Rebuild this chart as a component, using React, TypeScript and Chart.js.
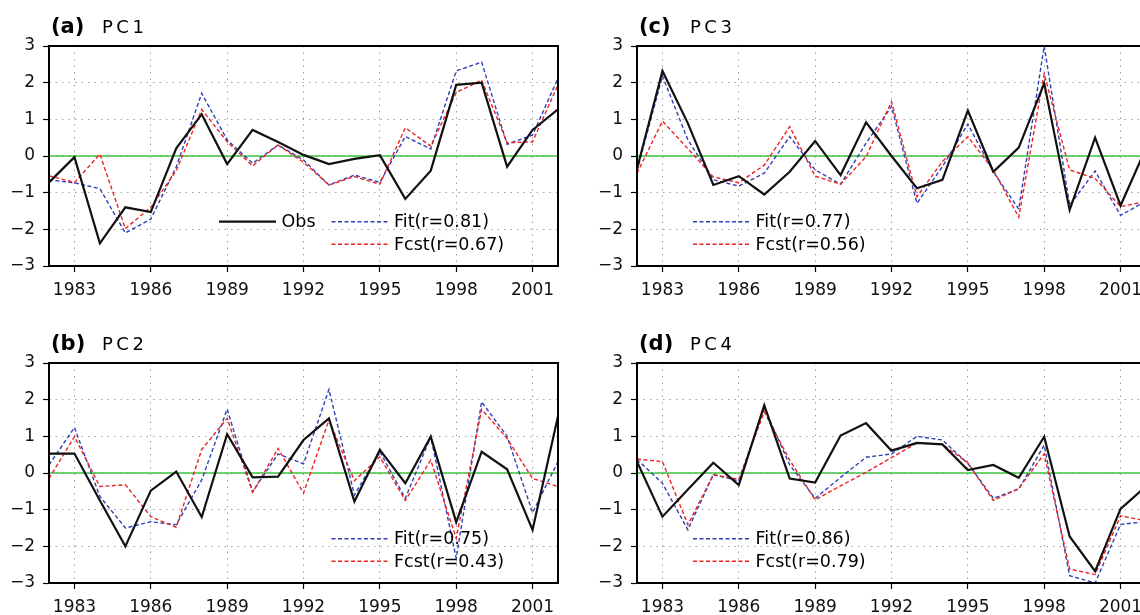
import React, { useEffect, useRef } from 'react';
import { Chart, registerables } from 'chart.js';

Chart.register(...registerables);

const years = [1982, 1983, 1984, 1985, 1986, 1987, 1988, 1989, 1990, 1991, 1992, 1993, 1994, 1995, 1996, 1997, 1998, 1999, 2000, 2001, 2002];
const tickYears = [1983, 1986, 1989, 1992, 1995, 1998, 2001];

// PC1
const pc1Obs = [-0.72, -0.03, -2.38, -1.4, -1.53, 0.21, 1.14, -0.22, 0.71, 0.38, 0.03, -0.22, -0.08, 0.02, -1.17, -0.4, 1.94, 2.0, -0.29, 0.71, 1.27];
const pc1Fit = [-0.65, -0.73, -0.89, -2.1, -1.72, -0.3, 1.71, 0.44, -0.2, 0.3, -0.11, -0.79, -0.52, -0.72, 0.53, 0.19, 2.32, 2.56, 0.32, 0.57, 2.12];
const pc1Fcst = [-0.54, -0.72, 0.05, -1.98, -1.4, -0.4, 1.27, 0.39, -0.27, 0.3, -0.17, -0.79, -0.56, -0.77, 0.77, 0.27, 1.73, 2.07, 0.36, 0.39, 1.94];

// PC2
const pc2Obs = [0.53, 0.53, -0.75, -2.0, -0.48, 0.04, -1.2, 1.06, -0.12, -0.1, 0.9, 1.49, -0.78, 0.63, -0.28, 0.99, -1.34, 0.58, 0.1, -1.55, 1.55];
const pc2Fit = [0.22, 1.24, -0.64, -1.5, -1.33, -1.41, -0.19, 1.74, -0.51, 0.52, 0.25, 2.28, -0.6, 0.58, -0.69, 0.99, -2.32, 1.94, 1.0, -1.08, 0.31];
const pc2Fcst = [-0.15, 0.99, -0.37, -0.32, -1.19, -1.48, 0.64, 1.49, -0.53, 0.67, -0.55, 1.44, -0.21, 0.44, -0.75, 0.35, -1.78, 1.74, 0.94, -0.15, -0.37];

// PC3
const pc3Obs = [-0.35, 2.32, 0.89, -0.79, -0.55, -1.05, -0.43, 0.41, -0.52, 0.92, 0.0, -0.88, -0.65, 1.24, -0.43, 0.23, 1.98, -1.47, 0.5, -1.35, 0.21];
const pc3Fit = [-0.4, 2.18, 0.44, -0.65, -0.82, -0.47, 0.53, -0.38, -0.77, 0.35, 1.35, -1.29, -0.29, 0.87, -0.43, -1.45, 3.0, -1.34, -0.41, -1.62, -1.23];
const pc3Fcst = [-0.47, 0.95, 0.2, -0.57, -0.73, -0.25, 0.8, -0.55, -0.77, -0.02, 1.48, -1.11, -0.15, 0.53, -0.38, -1.67, 2.24, -0.38, -0.61, -1.38, -1.24];

// PC4
const pc4Obs = [0.31, -1.19, -0.45, 0.28, -0.33, 1.85, -0.15, -0.26, 1.02, 1.36, 0.61, 0.82, 0.78, 0.08, 0.22, -0.13, 0.99, -1.73, -2.68, -0.98, -0.36];
const pc4Fit = [0.37, -0.28, -1.55, -0.04, -0.22, 1.78, 0.22, -0.69, -0.12, 0.43, 0.52, 1.0, 0.9, 0.26, -0.69, -0.44, 0.76, -2.8, -3.0, -1.4, -1.33];
const pc4Fcst = [0.38, 0.31, -1.41, -0.05, -0.17, 1.67, 0.35, -0.73, -0.35, 0.02, 0.42, 0.82, 0.78, 0.28, -0.75, -0.42, 0.52, -2.62, -2.77, -1.17, -1.3];

const panelLetters = ['(a)', '(b)', '(c)', '(d)'];
const panelNames = ['PC1', 'PC2', 'PC3', 'PC4'];
const fitLabels = ['Fit(r=0.81)', 'Fit(r=0.75)', 'Fit(r=0.77)', 'Fit(r=0.86)'];
const fcstLabels = ['Fcst(r=0.67)', 'Fcst(r=0.43)', 'Fcst(r=0.56)', 'Fcst(r=0.79)'];
const obsLabel = 'Obs';

const OBS_COLOR = '#111111';
const FIT_COLOR = '#2e40b8';
const FCST_COLOR = '#ee2222';
const ZERO_COLOR = '#3ec43e';
const FIT_DASH = [4, 2.5];
const FCST_DASH = [4, 2.5];
const FONT = '"DejaVu Sans"';

const CW = 570;
const CH = 300;

type PanelSpec = {
  idx: number;
  obs: number[];
  fit: number[];
  fcst: number[];
  left: number;
  top: number;
  showObs: boolean;
  legendLineX: number;
};

const panels: PanelSpec[] = [
  { idx: 0, obs: pc1Obs, fit: pc1Fit, fcst: pc1Fcst, left: 0, top: 0, showObs: true, legendLineX: 282.5 },
  { idx: 1, obs: pc2Obs, fit: pc2Fit, fcst: pc2Fcst, left: 0, top: 317, showObs: false, legendLineX: 282.5 },
  { idx: 2, obs: pc3Obs, fit: pc3Fit, fcst: pc3Fcst, left: 588, top: 0, showObs: false, legendLineX: 56 },
  { idx: 3, obs: pc4Obs, fit: pc4Fit, fcst: pc4Fcst, left: 588, top: 317, showObs: false, legendLineX: 56 },
];

function toPoints(vals: number[]) {
  return years.map((x, i) => ({ x, y: vals[i] }));
}

function makeDecorPlugin(p: PanelSpec) {
  return {
    id: 'decor' + p.idx,
    afterDraw(chart: any) {
      const { ctx, chartArea } = chart;
      const L = chartArea.left;
      const T = chartArea.top;
      ctx.save();
      // frame
      ctx.strokeStyle = '#000';
      ctx.lineWidth = 2;
      ctx.setLineDash([]);
      ctx.strokeRect(chartArea.left, chartArea.top, chartArea.right - chartArea.left, chartArea.bottom - chartArea.top);

      // title
      ctx.fillStyle = '#000';
      ctx.textBaseline = 'alphabetic';
      ctx.textAlign = 'left';
      ctx.font = 'bold 21px ' + FONT;
      ctx.fillText(panelLetters[p.idx], L + 2, T - 13.5);
      ctx.font = '18px ' + FONT;
      (ctx as any).letterSpacing = '3.5px';
      ctx.fillText(panelNames[p.idx], L + 53, T - 13.5);
      (ctx as any).letterSpacing = '0px';

      // legend
      const row1 = T + 175.7;
      const row2 = T + 198.2;
      const lineLen = 57;
      const gap = 5.5;
      ctx.font = '17.5px ' + FONT;
      ctx.textBaseline = 'middle';
      const drawEntry = (x: number, y: number, color: string, dash: number[], width: number, label: string) => {
        ctx.beginPath();
        ctx.strokeStyle = color;
        ctx.lineWidth = width;
        ctx.setLineDash(dash);
        ctx.moveTo(x, y);
        ctx.lineTo(x + lineLen, y);
        ctx.stroke();
        ctx.setLineDash([]);
        ctx.fillStyle = '#000';
        ctx.fillText(label, x + lineLen + gap, y + 1);
      };
      if (p.showObs) {
        drawEntry(L + 170, row1, OBS_COLOR, [], 2.2, obsLabel);
      }
      drawEntry(L + p.legendLineX, row1, FIT_COLOR, FIT_DASH, 1.4, fitLabels[p.idx]);
      drawEntry(L + p.legendLineX, row2, FCST_COLOR, FCST_DASH, 1.4, fcstLabels[p.idx]);
      ctx.restore();
    },
  };
}

function makeConfig(p: PanelSpec): any {
  const tickFont = { family: FONT, size: 17 };
  return {
    type: 'line',
    data: {
      datasets: [
        { label: 'Obs', data: toPoints(p.obs), borderColor: OBS_COLOR, borderWidth: 2.2, pointRadius: 0, tension: 0, fill: false },
        { label: 'Fcst', data: toPoints(p.fcst), borderColor: FCST_COLOR, borderWidth: 1.4, borderDash: FCST_DASH, pointRadius: 0, tension: 0, fill: false },
        { label: 'Fit', data: toPoints(p.fit), borderColor: FIT_COLOR, borderWidth: 1.4, borderDash: FIT_DASH, pointRadius: 0, tension: 0, fill: false },
        { label: 'zero', data: [{ x: years[0], y: 0 }, { x: years[years.length - 1], y: 0 }], borderColor: ZERO_COLOR, borderWidth: 1.6, pointRadius: 0, fill: false },
      ],
    },
    options: {
      animation: false,
      responsive: false,
      maintainAspectRatio: false,
      devicePixelRatio: 1,
      events: [],
      layout: { autoPadding: false, padding: { left: 0, top: 46, right: 12, bottom: 4 } },
      plugins: { legend: { display: false }, tooltip: { enabled: false }, title: { display: false } },
      scales: {
        x: {
          type: 'linear',
          min: 1982,
          max: 2002,
          afterBuildTicks: (s: any) => {
            s.ticks = tickYears.map((v) => ({ value: v }));
          },
          afterFit: (s: any) => {
            s.height = 30;
          },
          grid: { color: '#a0a0a0', lineWidth: 1, tickLength: 6, tickColor: '#000', tickWidth: 1.2, tickBorderDash: [], drawTicks: true },
          border: { display: false, dash: [1.5, 5] },
          ticks: { font: tickFont, color: '#111', padding: 8, maxRotation: 0, autoSkip: false, callback: (v: any) => String(v) },
        },
        y: {
          min: -3,
          max: 3,
          afterFit: (s: any) => {
            s.width = 49;
          },
          grid: { color: '#a0a0a0', lineWidth: 1, tickLength: 6, tickColor: '#000', tickWidth: 1.2, tickBorderDash: [], drawTicks: true },
          border: { display: false, dash: [1.5, 5] },
          ticks: {
            stepSize: 1,
            font: tickFont,
            color: '#111',
            padding: 8,
            callback: (v: any) => (v < 0 ? '\u2212' + Math.abs(v) : String(v)),
          },
        },
      },
    },
    plugins: [makeDecorPlugin(p)],
  };
}

function Panel({ p }: { p: PanelSpec }) {
  const ref = useRef<HTMLCanvasElement | null>(null);
  useEffect(() => {
    if (!ref.current) return;
    const chart = new Chart(ref.current, makeConfig(p));
    return () => chart.destroy();
  }, [p]);
  return (
    <canvas
      ref={ref}
      width={CW}
      height={CH}
      style={{ position: 'absolute', left: p.left, top: p.top, width: CW, height: CH }}
    />
  );
}

export default function App() {
  return (
    <div
      style={{
        position: 'absolute',
        left: 0,
        top: 0,
        width: 1140,
        height: 615,
        overflow: 'hidden',
        background: '#fff',
      }}
    >
      {panels.map((p) => (
        <Panel key={p.idx} p={p} />
      ))}
    </div>
  );
}
